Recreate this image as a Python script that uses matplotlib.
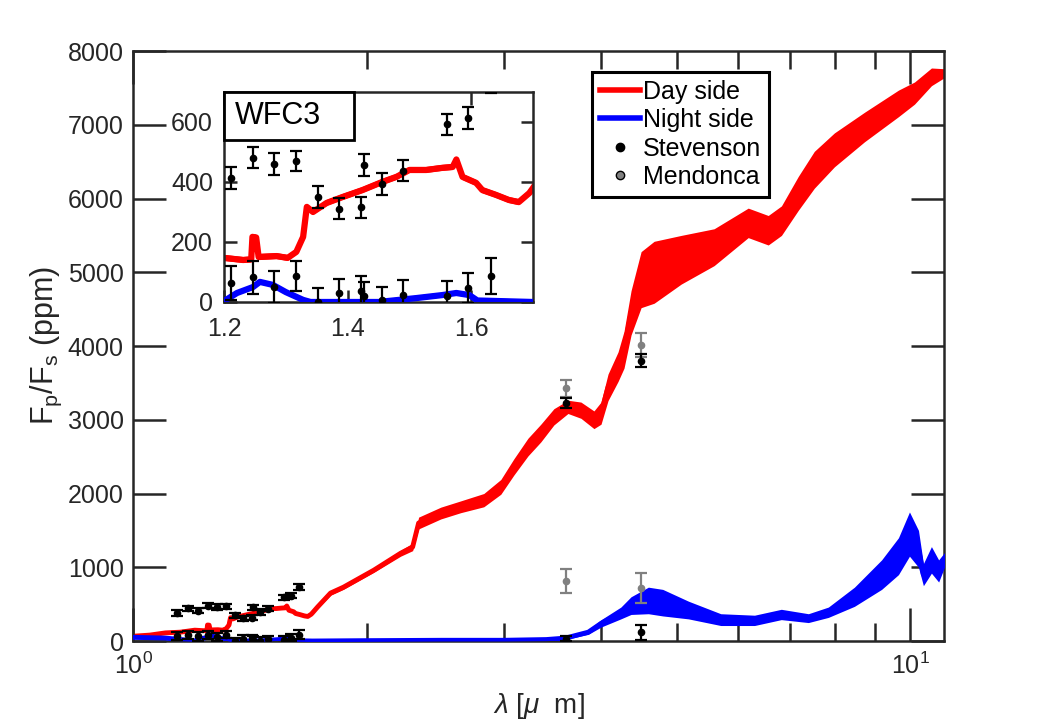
import matplotlib
matplotlib.use('Agg')
import matplotlib.pyplot as plt
import numpy as np
from matplotlib.lines import Line2D
from matplotlib.patches import Rectangle
from matplotlib.ticker import FixedLocator, NullFormatter

plt.rcParams['font.family'] = ['Liberation Sans', 'DejaVu Sans']
plt.rcParams['mathtext.fontset'] = 'custom'
plt.rcParams['mathtext.rm'] = 'Liberation Sans'
plt.rcParams['mathtext.it'] = 'Liberation Sans:italic'
plt.rcParams['mathtext.bf'] = 'Liberation Sans:bold'

# day side spectrum (red): wavelength [um], Fp/Fs [ppm], scatter half width [ppm]
day_wl = [1.00, 1.05, 1.10, 1.15, 1.20,
          1.231, 1.244, 1.246, 1.252, 1.256,
          1.285, 1.303, 1.317, 1.328, 1.334,
          1.344, 1.366, 1.392, 1.424, 1.456,
          1.479, 1.50, 1.527, 1.553, 1.570,
          1.576, 1.586, 1.608, 1.618, 1.64,
          1.661, 1.677, 1.694, 1.70, 1.726,
          1.794, 1.864, 2.039, 2.208, 2.288,
          2.329, 2.487, 2.638, 2.825, 2.971,
          3.088, 3.220, 3.345, 3.477, 3.625,
          3.767, 3.915, 3.998, 4.082, 4.205,
          4.280, 4.370, 4.502, 4.679, 5.070,
          5.589, 6.183, 6.561, 6.823, 7.172,
          7.521, 7.982, 8.727, 9.650, 10.12,
          10.64, 11.06]
day_fp = [65, 80, 110, 120, 147,
          140, 142, 217, 215, 150,
          153, 147, 167, 217, 317,
          300, 330, 350, 373, 400,
          417, 440, 440, 447, 450,
          475, 417, 397, 373, 357,
          340, 333, 363, 380, 460,
          650, 730, 960, 1190, 1275,
          1600, 1735, 1820, 1910, 2090,
          2360, 2630, 2820, 3040, 3175,
          3130, 3000, 3090, 3440, 3720,
          3950, 4450, 4900, 5000, 5170,
          5340, 5670, 5570, 5700, 6070,
          6390, 6660, 6970, 7290, 7430,
          7650, 7700]
day_hw = [10] * 34 + [20,
          30, 30, 30, 40, 50,
          80, 80, 80, 90, 100,
          110, 120, 120, 110, 90,
          110, 120, 150, 180, 200,
          250, 300, 380, 420, 330,
          250, 200, 200, 200, 230,
          250, 230, 200, 180, 150,
          120, 60]

# night side spectrum (blue)
night_wl = [1.00, 1.05, 1.10, 1.15, 1.20,
            1.221, 1.247, 1.258, 1.279, 1.30,
            1.328, 1.34, 1.45, 1.511, 1.553,
            1.576, 1.597, 1.61, 1.70, 2.0,
            2.5, 3.0, 3.4, 3.6, 3.85,
            4.0, 4.24, 4.37, 4.6, 4.8,
            5.18, 5.7, 6.3, 6.82, 7.39,
            7.84, 8.47, 9.18, 9.65, 9.97,
            10.24, 10.39, 10.64, 10.87, 11.06]
night_fp = [50, 45, 40, 20, 3,
            30, 50, 67, 57, 33,
            7, 0, 0, 13, 23,
            30, 23, 5, 0, 5,
            10, 10, 20, 40, 120,
            240, 380, 480, 550, 520,
            420, 290, 280, 360, 310,
            390, 600, 900, 1150, 1450,
            1250, 900, 1100, 950, 1100]
night_hw = [20, 20, 20, 15, 8,
            8, 8, 8, 8, 8,
            8, 8, 8, 8, 8,
            8, 8, 8, 8, 10,
            10, 10, 15, 20, 30,
            50, 80, 120, 180, 180,
            120, 80, 70, 70, 60,
            70, 130, 200, 250, 300,
            250, 150, 180, 150, 100]

# Stevenson WFC3 points
wfc3_wl = [1.137, 1.175, 1.211, 1.247, 1.281, 1.316, 1.352, 1.386,
           1.421, 1.426, 1.456, 1.490, 1.561, 1.595, 1.632]
wfc3_day = [380, 445, 413, 480, 460, 470, 350, 310,
            316, 457, 393, 437, 593, 613, 735]
wfc3_day_err = [35, 35, 37, 35, 37, 32, 36, 35,
                35, 37, 36, 35, 35, 36, 40]
wfc3_night = [70, 80, 63, 83, 50, 87, 0, 30,
              37, 20, 5, 23, 20, 47, 87]
wfc3_night_err = [50, 50, 57, 55, 52, 50, 45, 46,
                  50, 45, 45, 50, 50, 49, 60]

# Spitzer photometry
spitzer_wl = [3.6, 4.5]
stev_day = [3230, 3800]
stev_day_err = [65, 90]
stev_night = [30, 120]
stev_night_err = [35, 100]
mend_day = [3430, 4015]
mend_day_err = [115, 160]
mend_night = [810, 720]
mend_night_err = [160, 200]

dark = '#262626'
gray = '#808080'
fs = 18

fig = plt.figure(figsize=(10.41, 7.23), dpi=100)
ax = fig.add_axes([0.128, 0.1134, 0.779, 0.816])


def draw_spectra(a, lw):
    lo = np.array(day_fp) - np.array(day_hw)
    hi = np.array(day_fp) + np.array(day_hw)
    a.fill_between(day_wl, lo, hi, color='red', lw=0, zorder=2)
    a.plot(day_wl, day_fp, color='red', lw=lw, zorder=2)
    lo = np.array(night_fp) - np.array(night_hw)
    hi = np.array(night_fp) + np.array(night_hw)
    a.fill_between(night_wl, lo, hi, color='blue', lw=0, zorder=3)
    a.plot(night_wl, night_fp, color='blue', lw=lw, zorder=3)
    eb = dict(fmt='o', ms=4.5, capsize=4, elinewidth=1.6, capthick=1.6, zorder=4)
    a.errorbar(wfc3_wl, wfc3_day, yerr=wfc3_day_err, color='k', **eb)
    a.errorbar(wfc3_wl, wfc3_night, yerr=wfc3_night_err, color='k', **eb)
    a.errorbar(spitzer_wl, mend_day, yerr=mend_day_err, color=gray, **eb)
    a.errorbar(spitzer_wl, mend_night, yerr=mend_night_err, color=gray, **eb)
    a.errorbar(spitzer_wl, stev_day, yerr=stev_day_err, color='k', **eb)
    a.errorbar(spitzer_wl, stev_night, yerr=stev_night_err, color='k', **eb)


def style(a, major, minor, xpad, ypad):
    for s in a.spines.values():
        s.set_linewidth(1.8)
        s.set_color(dark)
    a.tick_params(which='both', direction='in', top=True, right=True,
                  width=1.8, color=dark, labelcolor=dark, labelsize=fs)
    a.tick_params(which='major', length=major)
    a.tick_params(which='minor', length=minor)
    a.tick_params(axis='x', pad=xpad)
    a.tick_params(axis='y', pad=ypad)


draw_spectra(ax, 3.5)
ax.set_xscale('log')
ax.set_xlim(1, 11.05)
ax.set_ylim(0, 8000)
ax.set_yticks(range(0, 8001, 1000))
ax.xaxis.set_major_locator(FixedLocator([1, 10]))
ax.xaxis.set_minor_locator(FixedLocator([2, 3, 4, 5, 6, 7, 8, 9]))
ax.xaxis.set_minor_formatter(NullFormatter())
ax.set_xticklabels([r'$10^0$', r'$10^1$'])
style(ax, 24, 13, 8, 7)

ax.set_xlabel(r'$\lambda$ [$\mu$  m]', fontsize=20, color=dark)
ax.xaxis.set_label_coords(0.5, -0.084)
ax.set_ylabel(r'F$_\mathrm{p}$/F$_\mathrm{s}$ (ppm)', fontsize=22, color=dark)
ax.yaxis.set_label_coords(-0.086, 0.5)

# inset: WFC3 range
ax_in = fig.add_axes([0.2152, 0.5823, 0.2968, 0.2905])
draw_spectra(ax_in, 4.5)
ax_in.set_xlim(1.2, 1.7)
ax_in.set_ylim(0, 700)
ax_in.set_xticks([1.2, 1.4, 1.6])
ax_in.set_xticklabels(['1.2', '1.4', '1.6'])
ax_in.set_yticks([0, 200, 400, 600])
style(ax_in, 9, 5, 11, 8)
ax_in.add_patch(Rectangle((0, 0.77), 0.42, 0.23, transform=ax_in.transAxes,
                          facecolor='white', edgecolor='k', lw=2, zorder=5, clip_on=False))
ax_in.text(0.035, 0.885, 'WFC3', transform=ax_in.transAxes, fontsize=22,
           va='center', ha='left', color='k', zorder=6)

handles = [Line2D([], [], color='red', lw=4),
           Line2D([], [], color='blue', lw=4),
           Line2D([], [], ls='none', marker='o', color='k', ms=6),
           Line2D([], [], ls='none', marker='o', mfc=gray, mec='k', ms=6)]
leg = fig.legend(handles, ['Day side', 'Night side', 'Stevenson', 'Mendonca'],
                 loc='upper left', bbox_to_anchor=(0.5687, 0.9004), fontsize=fs,
                 frameon=True, fancybox=False, framealpha=1, edgecolor='k',
                 borderpad=0.3, handlelength=1.6, handletextpad=0.15,
                 labelspacing=0.18, borderaxespad=0)
leg.get_frame().set_linewidth(2.2)

fig.savefig('out.png', dpi=100)
